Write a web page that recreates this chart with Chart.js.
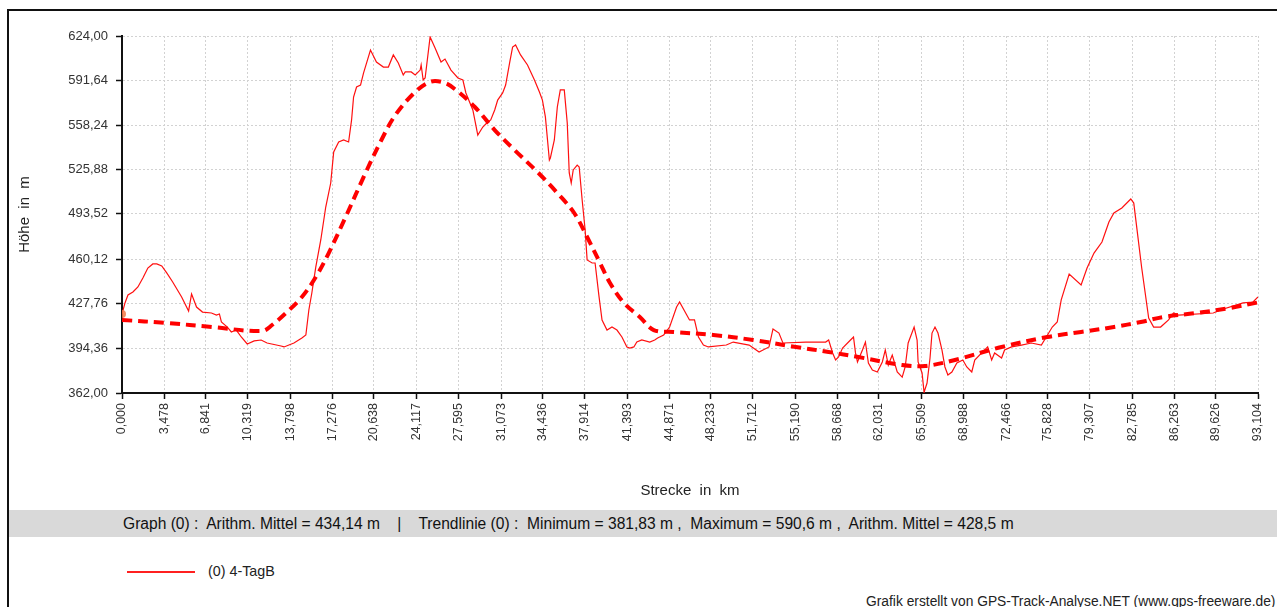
<!DOCTYPE html>
<html>
<head>
<meta charset="utf-8">
<script src="https://cdn.jsdelivr.net/npm/chart.js@4/dist/chart.umd.min.js"></script>
<style>
  body { margin: 0; background: #fff; font-family: "Liberation Sans", Arial, sans-serif; }
  #wrap { position: relative; width: 1277px; height: 607px; overflow: hidden; }
  #rahmen { position: absolute; left: 7px; top: 9px; width: 1280px; height: 610px; border-top: 2px solid #111; border-left: 2px solid #111; }
  #diagramm { position: absolute; left: 0; top: 0; }
  #band { position: absolute; left: 9px; top: 510px; width: 1268px; height: 27px; background: #d9d9d9; }
  #bandText { position: absolute; left: 123px; top: 510px; line-height: 27px; font-size: 15.6px; color: #111; white-space: pre; }
  #legLinie { position: absolute; left: 127px; top: 571px; width: 68px; height: 1.5px; background: #ff2020; }
  #legText { position: absolute; left: 208px; top: 563px; font-size: 14.3px; color: #222; }
  #fuss { position: absolute; left: 866px; top: 594px; font-size: 13.8px; color: #222; white-space: nowrap; }
</style>
</head>
<body>
<div id="wrap">
  <div id="rahmen"></div>
  <div id="band"></div>
  <div id="bandText">Graph (0) :  Arithm. Mittel = 434,14 m    |    Trendlinie (0) :  Minimum = 381,83 m ,  Maximum = 590,6 m ,  Arithm. Mittel = 428,5 m</div>
  <canvas id="diagramm" width="1277" height="505"></canvas>
  <div id="legLinie"></div>
  <div id="legText">(0) 4-TagB</div>
  <div id="fuss">Grafik erstellt von GPS-Track-Analyse.NET (www.gps-freeware.de)</div>
</div>
<script>
// Strecke in km / Höhe in m
const strecke = [0.000,0.244,0.489,0.896,1.303,1.711,2.118,2.525,2.851,3.258,
  3.666,4.154,4.887,5.458,5.702,6.109,6.598,7.331,7.738,7.983,
  8.146,8.634,8.960,9.367,9.775,10.263,10.834,11.404,11.891,13.033,
  13.277,14.092,14.744,15.069,15.314,15.558,15.884,16.291,16.698,17.106,
  17.350,17.757,18.165,18.572,18.816,18.979,19.224,19.549,19.794,20.364,
  20.853,21.423,21.830,22.237,22.645,23.052,23.215,23.704,24.030,24.437,
  24.518,24.681,24.844,25.251,25.659,26.147,26.473,26.962,27.532,27.939,
  28.184,28.754,29.161,29.569,29.976,30.220,30.546,30.790,31.198,31.442,
  31.768,32.012,32.257,32.664,33.234,33.804,34.212,34.456,34.700,35.026,
  35.108,35.433,35.678,35.922,36.248,36.492,36.655,36.818,36.981,37.307,
  37.470,37.714,37.958,38.121,38.529,38.773,39.099,39.343,39.751,40.158,
  40.565,40.972,41.380,41.624,41.950,42.194,42.601,43.253,43.660,43.900,
  44.394,44.882,45.452,45.697,46.511,46.919,47.245,47.652,48.059,49.525,
  50.095,51.399,52.213,53.028,53.354,53.842,54.168,56.042,57.671,57.915,
  58.241,58.485,58.730,59.056,59.707,59.952,60.115,60.277,60.685,60.929,
  61.173,61.499,61.907,62.314,62.558,62.803,63.128,63.536,63.943,64.187,
  64.432,64.920,65.165,65.246,65.572,65.735,65.979,66.224,66.387,66.631,
  66.875,67.201,67.446,67.690,68.016,68.423,68.912,69.238,69.645,69.889,
  70.459,70.948,71.274,71.518,72.089,72.333,72.903,73.718,74.532,75.347,
  75.754,76.243,76.650,76.976,77.628,78.605,79.094,79.664,80.316,80.886,
  81.293,81.945,82.678,82.922,83.574,84.144,84.551,85.122,85.773,86.180,
  86.588,89.439,90.009,91.882,92.697,93.104];
const hoehe = [420.0,428.1,433.9,436.1,439.8,446.4,453.7,456.7,456.7,455.2,
  450.1,443.5,432.5,422.2,434.7,425.1,421.4,420.7,419.2,420.0,
  414.1,410.4,406.8,408.2,403.1,398.0,400.2,400.9,398.7,396.5,
  395.8,398.7,402.4,404.6,422.9,435.4,454.5,474.3,498.5,516.1,
  538.9,546.2,547.7,546.2,562.4,579.2,586.6,588.0,596.8,613.7,
  604.9,601.2,601.2,610.1,604.2,595.4,597.6,597.6,595.4,599.0,
  602.7,591.7,593.2,623.3,615.2,604.9,607.1,599.0,593.2,591.7,
  582.2,569.7,551.3,557.2,560.9,562.4,569.7,577.0,582.2,588.0,
  604.2,615.9,617.4,610.1,602.7,591.7,582.9,577.0,564.6,533.0,
  534.5,547.7,571.9,584.4,584.4,560.2,523.5,516.1,525.7,529.3,
  527.9,503.6,481.6,459.6,457.4,457.4,432.5,415.6,408.2,410.4,
  408.2,403.1,395.8,395.0,395.8,399.4,400.9,399.4,400.9,402.4,
  404.6,410.4,425.1,428.8,415.6,415.6,403.1,397.2,395.8,397.2,
  399.4,397.2,392.1,395.8,409.0,406.0,398.7,399.4,399.4,400.9,
  391.4,386.2,388.4,395.0,400.9,403.1,391.4,384.8,393.6,399.4,
  384.0,378.9,377.4,384.8,393.6,382.5,389.9,377.4,373.7,381.1,
  398.7,410.4,400.9,384.8,376.7,362.5,369.3,387.7,406.0,410.4,
  406.0,393.6,381.1,375.2,377.4,384.0,386.2,381.1,377.4,386.2,
  391.4,395.8,386.2,391.4,387.7,393.6,395.8,397.2,398.7,397.2,
  403.1,410.4,414.1,430.3,449.3,441.3,453.7,464.7,472.8,487.5,
  494.1,497.8,504.4,501.4,453.7,417.0,410.4,410.4,415.6,420.7,
  419.2,420.7,422.9,428.1,428.8,432.5];

// Trendlinie
const trendKm = [0, 3.666, 7.412, 11.485, 12.300, 13.440, 14.744, 15.884, 16.943, 18.328,
  19.957, 21.260, 22.400, 24.030, 25.333, 26.473, 27.369, 28.917, 30.546, 32.175,
  34.049, 35.678, 37.063, 38.121, 39.180, 39.995, 41.135, 42.439, 43.579, 45.208,
  48.466, 51.725, 55.227, 57.915, 60.359, 63.943, 65.816, 68.260, 72.089, 75.836,
  78.605, 81.293, 83.492, 85.366, 88.054, 90.823, 93.104];
const trendHoehe = [415.6, 413.4, 410.4, 407.5, 411.9, 420.7, 432.5, 447.1, 464.7, 491.2,
  523.5, 547.7, 566.0, 582.9, 590.6, 589.5, 584.4, 571.9, 555.0, 540.3,
  524.2, 508.8, 494.1, 476.5, 457.4, 442.7, 428.1, 417.8, 408.2, 406.8,
  404.6, 400.9, 395.8, 392.1, 388.4, 382.5, 381.8, 386.2, 395.8, 403.1,
  406.8, 410.4, 414.1, 417.8, 420.7, 424.4, 428.5];

// Achsenbeschriftung
const xTicks = [0, 3.478, 6.841, 10.319, 13.798, 17.276, 20.638, 24.117, 27.595, 31.073,
  34.436, 37.914, 41.393, 44.871, 48.233, 51.712, 55.190, 58.668, 62.031, 65.509,
  68.988, 72.466, 75.828, 79.307, 82.785, 86.263, 89.626, 93.104];
const yTicks = [362.00, 394.36, 427.76, 460.12, 493.52, 525.88, 558.24, 591.64, 624.00];

function komma(v, n) {
  return v.toFixed(n).replace('.', ',');
}

const punkte = strecke.map((km, i) => ({ x: km, y: hoehe[i] }));
const trend = trendKm.map((km, i) => ({ x: km, y: trendHoehe[i] }));

const gitter = { color: '#d2d2d2', lineWidth: 1, tickColor: '#111', tickLength: 6, tickWidth: 1.5 };
const rand = { color: '#111', width: 2, dash: [2, 2] };

new Chart(document.getElementById('diagramm'), {
  type: 'line',
  data: {
    datasets: [
      {
        label: '(0) 4-TagB',
        data: punkte,
        borderColor: '#ff1010',
        borderWidth: 1.2,
        tension: 0,
        pointRadius: ctx => ctx.dataIndex === 0 ? 4 : 0,
        pointBackgroundColor: 'rgba(240,120,70,0.85)',
        pointBorderWidth: 0,
        order: 1
      },
      {
        label: 'Trendlinie',
        data: trend,
        borderColor: '#ff0000',
        borderWidth: 4,
        borderDash: [10, 6],
        tension: 0.35,
        pointRadius: 0,
        order: 0
      }
    ]
  },
  options: {
    responsive: false,
    animation: false,
    layout: { padding: { left: 0, top: 36, right: 12, bottom: 0 } },
    plugins: { legend: { display: false }, tooltip: { enabled: false } },
    scales: {
      x: {
        type: 'linear',
        min: 0,
        max: 93.104,
        afterBuildTicks: s => { s.ticks = xTicks.map(v => ({ value: v })); },
        afterFit: s => { s.height = 112; },
        ticks: {
          autoSkip: false,
          minRotation: 90,
          maxRotation: 90,
          padding: 4,
          color: '#333',
          font: { family: 'Liberation Sans', size: 12.5 },
          callback: v => komma(v, 3)
        },
        grid: gitter,
        border: rand,
        title: {
          display: true,
          text: 'Strecke  in  km',
          color: '#222',
          font: { family: 'Liberation Sans', size: 15 },
          padding: { top: 0, bottom: 5 }
        }
      },
      y: {
        type: 'linear',
        min: 362,
        max: 624,
        afterBuildTicks: s => { s.ticks = yTicks.map(v => ({ value: v })); },
        afterFit: s => { s.width = 122; },
        ticks: {
          padding: 8,
          color: '#333',
          font: { family: 'Liberation Sans', size: 13 },
          callback: v => komma(v, 2)
        },
        grid: gitter,
        border: rand,
        title: {
          display: true,
          text: 'Höhe  in  m',
          color: '#222',
          font: { family: 'Liberation Sans', size: 15 },
          padding: { top: 16, bottom: 0 }
        }
      }
    }
  }
});
</script>
</body>
</html>
